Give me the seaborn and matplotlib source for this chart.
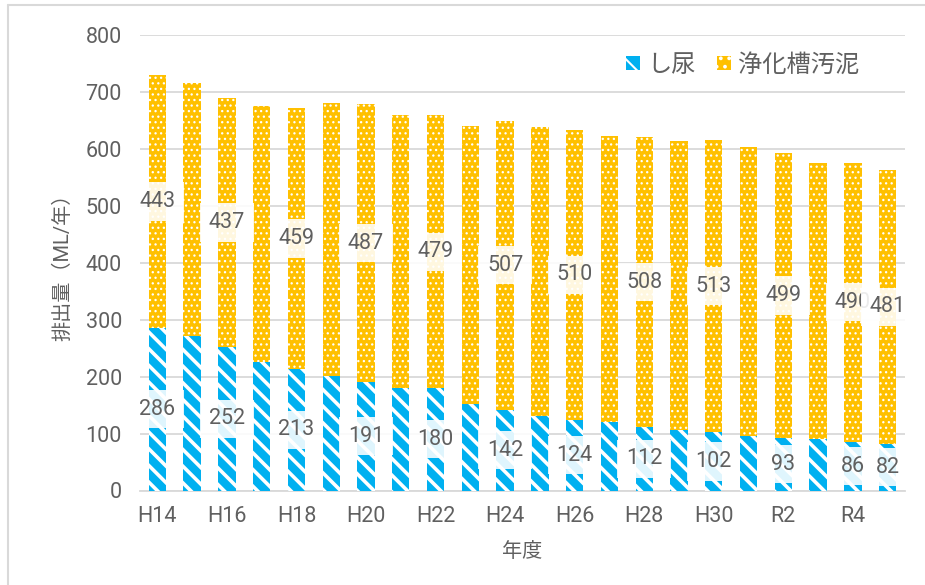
import matplotlib
matplotlib.use("Agg")
import matplotlib.pyplot as plt
import seaborn as sns
import pandas as pd
from matplotlib.patches import Patch
from matplotlib.lines import Line2D

# ---- data ----
years = ["H14", "H15", "H16", "H17", "H18", "H19", "H20", "H21", "H22", "H23", "H24",
         "H25", "H26", "H27", "H28", "H29", "H30", "R1", "R2", "R3", "R4", "R5"]
shinyo = [286, 271, 252, 226, 213, 201, 191, 180, 180, 152, 142,
          131, 124, 120, 112, 107, 102, 95, 93, 90, 86, 82]
jouka = [443, 445, 437, 450, 459, 480, 487, 480, 479, 488, 507,
         507, 510, 502, 508, 506, 513, 508, 499, 485, 490, 481]
tick_labels = ["H14", "", "H16", "", "H18", "", "H20", "", "H22", "", "H24",
               "", "H26", "", "H28", "", "H30", "", "R2", "", "R4", ""]
label_idx = [0, 2, 4, 6, 8, 10, 12, 14, 16, 18, 20, 21]

df = pd.DataFrame({"year": years, "shinyo": shinyo, "jouka": jouka})
df["total"] = df["shinyo"] + df["jouka"]

sns.set_theme(style="white")
plt.rcParams["font.family"] = ["Roboto", "Noto Sans CJK JP", "DejaVu Sans"]
plt.rcParams["hatch.color"] = "white"

BLUE = "#00B0F0"
ORANGE = "#FFC000"
TXT = "#606060"
GRID = "#D9D9D9"
DOT_LW = 0.9
STRIPE_LW = 2.6


def style(patches, hatch, lw):
    for p in patches:
        p.set_hatch(hatch)
        if hasattr(p, "set_hatch_linewidth"):
            p.set_hatch_linewidth(lw)


fig = plt.figure(figsize=(9.25, 5.85), dpi=100)
ax = fig.add_axes([140 / 925, 1 - 490.5 / 585, 765 / 925, 455.5 / 585])

plt.rcParams["hatch.linewidth"] = DOT_LW
sns.barplot(data=df, x="year", y="total", color=ORANGE, saturation=1, width=0.5,
            ax=ax, edgecolor="white", linewidth=0, zorder=2)
n = len(years)
style(ax.patches[:n], "...", DOT_LW)
plt.rcParams["hatch.linewidth"] = STRIPE_LW
sns.barplot(data=df, x="year", y="shinyo", color=BLUE, saturation=1, width=0.5,
            ax=ax, edgecolor="white", linewidth=0, zorder=3)
style(ax.patches[n:2 * n], "\\\\", STRIPE_LW)

ax.set_ylim(0, 800)
ax.set_xlim(-0.5, n - 0.5)
ax.set_yticks(range(0, 801, 100))
ax.set_xticks(range(n))
ax.set_xticklabels(tick_labels)
ax.yaxis.grid(True, color=GRID, linewidth=1.3, zorder=0)
ax.set_axisbelow(True)
for s in ["top", "right", "left"]:
    ax.spines[s].set_visible(False)
ax.spines["bottom"].set_color(GRID)
ax.spines["bottom"].set_linewidth(1.3)
ax.tick_params(axis="both", length=0, labelsize=15.5, labelcolor=TXT)
ax.tick_params(axis="y", pad=13)
ax.tick_params(axis="x", pad=11)

ax.set_ylabel("排出量（ML/年）", fontsize=14.5, color=TXT)
ax.set_xlabel("年度", fontsize=14.5, color=TXT)
ax.yaxis.set_label_coords(-0.089, 0.5)
ax.xaxis.set_label_coords(0.5, -0.113)

bbox = dict(boxstyle="square,pad=0.4", fc="white", ec="none", alpha=0.88)
for i in label_idx:
    ax.text(i, shinyo[i] / 2, f"{shinyo[i]}", ha="center", va="center", fontsize=15.5,
            color=TXT, bbox=bbox, zorder=5)
    ax.text(i, shinyo[i] + jouka[i] / 2, f"{jouka[i]}", ha="center", va="center",
            fontsize=15.5, color=TXT, bbox=bbox, zorder=5)

plt.rcParams["hatch.linewidth"] = 1.5
handles = [Patch(facecolor=BLUE, edgecolor="white", hatch="\\", linewidth=0, label="し尿"),
           Patch(facecolor=ORANGE, edgecolor="white", hatch="..", linewidth=0, label="浄化槽汚泥")]
leg = fig.legend(handles=handles, loc="center right", bbox_to_anchor=(881 / 925, 1 - 65 / 585),
                 ncol=2, frameon=False, fontsize=17.5, handlelength=0.55, handleheight=0.55,
                 handletextpad=0.3, columnspacing=0.9, labelcolor=TXT)

# outer frame (top and left)
fig.add_artist(Line2D([8 / 925, 8 / 925], [0, 1 - 5 / 585], transform=fig.transFigure,
                      color=GRID, linewidth=1.5))
fig.add_artist(Line2D([8 / 925, 1], [1 - 5 / 585, 1 - 5 / 585], transform=fig.transFigure,
                      color=GRID, linewidth=1.5))

fig.savefig("out.png", dpi=100)
